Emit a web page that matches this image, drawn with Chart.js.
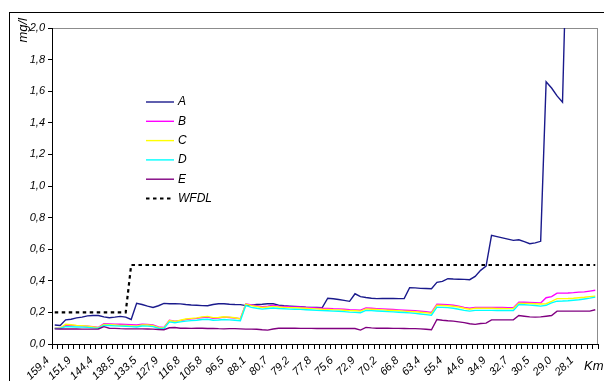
<!DOCTYPE html>
<html lang="de">
<head>
  <meta charset="UTF-8">
  <title>mg/l entlang Km</title>
  <script src="https://cdn.jsdelivr.net/npm/chart.js"></script>
  <style>
    html, body { margin: 0; padding: 0; background: #fff; overflow: hidden; }
    .frame { position: absolute; left: 9px; top: 12px; width: 700px; height: 500px; border: 1px solid #000; }
    .wrap { position: absolute; left: 0; top: 0; width: 604px; height: 381px; }
  </style>
</head>
<body>
  <div class="frame"></div>
  <div class="wrap"><canvas id="chart" width="604" height="381"></canvas></div>

  <script>
    // Km-Beschriftung (jede 4. Kategorie), 100 Messpunkte
    const tickLabels = ['159,4', '151,9', '144,4', '138,5', '133,5', '127,9', '116,8', '105,8', '96,5', '88,1',
      '80,7', '79,2', '77,8', '75,6', '72,9', '70,2', '66,8', '63,4', '55,4', '44,6',
      '34,9', '32,7', '30,5', '29,0', '28,1'];

    const seriesA = [
      0.12, 0.117, 0.153, 0.157, 0.165, 0.17, 0.178, 0.18, 0.18, 0.172,
      0.166, 0.17, 0.175, 0.17, 0.155, 0.257, 0.25, 0.24, 0.231, 0.242,
      0.257, 0.255, 0.255, 0.254, 0.25, 0.247, 0.245, 0.243, 0.242, 0.25,
      0.255, 0.255, 0.252, 0.25, 0.249, 0.243, 0.246, 0.25, 0.252, 0.255,
      0.255, 0.246, 0.242, 0.24, 0.238, 0.236, 0.233, 0.232, 0.231, 0.23,
      0.29, 0.286, 0.282, 0.276, 0.27, 0.318, 0.3, 0.294, 0.29, 0.287,
      0.288, 0.288, 0.288, 0.287, 0.287, 0.356, 0.355, 0.352, 0.351, 0.35,
      0.39, 0.396, 0.413, 0.411, 0.41, 0.409, 0.407, 0.428, 0.466, 0.493,
      0.688, 0.68, 0.672, 0.664, 0.656, 0.66, 0.648, 0.635, 0.64, 0.65,
      1.66, 1.62, 1.57, 1.53, 2.84, 2.9, 2.95, 3.0, 3.05, 3.1
    ];
    const seriesB = [
      0.1, 0.1, 0.118, 0.117, 0.116, 0.115, 0.113, 0.11, 0.105, 0.128,
      0.127, 0.126, 0.125, 0.124, 0.122, 0.12, 0.126, 0.124, 0.12, 0.108,
      0.105, 0.15, 0.145, 0.148, 0.155, 0.16, 0.162, 0.168, 0.17, 0.162,
      0.165, 0.17, 0.168, 0.165, 0.16, 0.255, 0.248, 0.242, 0.236, 0.24,
      0.245, 0.24, 0.238, 0.236, 0.235, 0.234, 0.232, 0.23, 0.228, 0.226,
      0.225, 0.223, 0.222, 0.22, 0.217, 0.216, 0.214, 0.228, 0.226, 0.224,
      0.222, 0.22, 0.218, 0.216, 0.214, 0.212, 0.21, 0.207, 0.204, 0.2,
      0.252, 0.25, 0.248, 0.245, 0.24, 0.232, 0.226, 0.232, 0.232, 0.232,
      0.232, 0.231, 0.231, 0.23, 0.23, 0.265, 0.264, 0.263, 0.262, 0.26,
      0.293, 0.3, 0.322, 0.322, 0.323, 0.325, 0.328, 0.33, 0.335, 0.34
    ];
    const seriesC = [
      0.1, 0.1, 0.125, 0.122, 0.118, 0.116, 0.113, 0.108, 0.103, 0.123,
      0.122, 0.12, 0.118, 0.117, 0.115, 0.113, 0.12, 0.12, 0.116, 0.105,
      0.102, 0.148, 0.142, 0.15, 0.158, 0.162, 0.165, 0.172, 0.175, 0.167,
      0.168, 0.172, 0.17, 0.166, 0.158, 0.252, 0.243, 0.237, 0.231, 0.234,
      0.238, 0.234, 0.232, 0.23, 0.229, 0.228, 0.226, 0.224, 0.222, 0.22,
      0.219, 0.217, 0.216, 0.214, 0.211, 0.21, 0.208, 0.222, 0.22, 0.218,
      0.216, 0.214, 0.212, 0.21, 0.208, 0.206, 0.204, 0.201, 0.198, 0.194,
      0.246, 0.244, 0.242, 0.239, 0.234, 0.226, 0.22, 0.226, 0.226, 0.226,
      0.226, 0.225, 0.225, 0.224, 0.224, 0.258, 0.257, 0.256, 0.255, 0.253,
      0.255, 0.27, 0.287, 0.287, 0.288, 0.29, 0.293, 0.296, 0.3, 0.303
    ];
    const seriesD = [
      0.098, 0.098, 0.11, 0.109, 0.108, 0.107, 0.105, 0.102, 0.1, 0.118,
      0.117, 0.115, 0.113, 0.112, 0.11, 0.108, 0.114, 0.113, 0.11, 0.1,
      0.098, 0.14, 0.135, 0.14, 0.145, 0.148, 0.15, 0.155, 0.157, 0.15,
      0.152, 0.155, 0.153, 0.15, 0.147, 0.245, 0.232, 0.226, 0.221, 0.225,
      0.228, 0.225, 0.223, 0.221, 0.22, 0.219, 0.217, 0.215, 0.213, 0.211,
      0.21, 0.208, 0.207, 0.205, 0.202, 0.2, 0.198, 0.213, 0.211, 0.209,
      0.207, 0.205, 0.203, 0.201, 0.199, 0.197, 0.194, 0.19, 0.186, 0.182,
      0.233, 0.232, 0.23, 0.226, 0.22, 0.213, 0.208, 0.213, 0.213, 0.213,
      0.213, 0.212, 0.212, 0.212, 0.212, 0.25, 0.248, 0.246, 0.244, 0.24,
      0.245, 0.26, 0.271, 0.272, 0.274, 0.277, 0.28, 0.285, 0.29, 0.297
    ];
    const seriesE = [
      0.096, 0.095, 0.095, 0.096, 0.095, 0.094, 0.094, 0.094, 0.095, 0.11,
      0.1, 0.099, 0.097, 0.096, 0.096, 0.096, 0.096, 0.095, 0.094, 0.092,
      0.09, 0.103, 0.104, 0.1, 0.1, 0.099, 0.1, 0.1, 0.098, 0.099,
      0.097, 0.096, 0.097, 0.097, 0.096, 0.094, 0.094, 0.093, 0.09, 0.088,
      0.095, 0.1, 0.1, 0.1, 0.1, 0.099, 0.099, 0.099, 0.098, 0.098,
      0.098, 0.098, 0.098, 0.098, 0.098, 0.098, 0.088, 0.105, 0.102, 0.1,
      0.1, 0.1, 0.099, 0.099, 0.098, 0.097, 0.097, 0.096, 0.093, 0.09,
      0.155, 0.15, 0.147, 0.145, 0.14, 0.135, 0.128, 0.124, 0.13, 0.132,
      0.153, 0.153, 0.153, 0.153, 0.153, 0.18, 0.176, 0.172, 0.17, 0.172,
      0.176, 0.18, 0.208, 0.208, 0.208, 0.208, 0.208, 0.208, 0.208, 0.217
    ];
    const seriesWFDL = [
      0.2, 0.2, 0.2, 0.2, 0.2, 0.2, 0.2, 0.2, 0.2, 0.2,
      0.2, 0.2, 0.2, 0.2, 0.5, 0.5, 0.5, 0.5, 0.5, 0.5,
      0.5, 0.5, 0.5, 0.5, 0.5, 0.5, 0.5, 0.5, 0.5, 0.5,
      0.5, 0.5, 0.5, 0.5, 0.5, 0.5, 0.5, 0.5, 0.5, 0.5,
      0.5, 0.5, 0.5, 0.5, 0.5, 0.5, 0.5, 0.5, 0.5, 0.5,
      0.5, 0.5, 0.5, 0.5, 0.5, 0.5, 0.5, 0.5, 0.5, 0.5,
      0.5, 0.5, 0.5, 0.5, 0.5, 0.5, 0.5, 0.5, 0.5, 0.5,
      0.5, 0.5, 0.5, 0.5, 0.5, 0.5, 0.5, 0.5, 0.5, 0.5,
      0.5, 0.5, 0.5, 0.5, 0.5, 0.5, 0.5, 0.5, 0.5, 0.5,
      0.5, 0.5, 0.5, 0.5, 0.5, 0.5, 0.5, 0.5, 0.5, 0.5
    ];

    // nur jede 4. Kategorie bekommt eine Beschriftung
    const categories = seriesA.map((_, i) => (i % 4 === 0 && tickLabels[i / 4]) ? tickLabels[i / 4] : '');

    const FONT = 'Liberation Sans, Arial, sans-serif';

    function line(label, data, color, order, extra) {
      return Object.assign({
        label, data, order,
        borderColor: color,
        backgroundColor: color,
        borderWidth: 1.4,
        pointRadius: 0,
        tension: 0,
        fill: false
      }, extra || {});
    }

    // Zeichenfläche: grauer Rahmen, Legende im Diagramm, Achsentitel
    const extras = {
      id: 'extras',
      beforeDraw(chart) {
        const { ctx, chartArea: a } = chart;
        ctx.save();
        ctx.strokeStyle = '#8c8c8c';
        ctx.lineWidth = 1;
        ctx.strokeRect(Math.round(a.left) + 0.5, Math.round(a.top) + 0.5,
          Math.round(a.right - a.left) - 1, Math.round(a.bottom - a.top));
        ctx.restore();
      },
      afterDraw(chart) {
        const ctx = chart.ctx;
        ctx.save();
        // Legende
        ctx.font = 'italic 12px ' + FONT;
        ctx.textBaseline = 'middle';
        ctx.fillStyle = '#000';
        chart.data.datasets.forEach((ds, i) => {
          const y = 102 + i * 19.3;
          ctx.strokeStyle = ds.borderColor;
          ctx.lineWidth = ds.borderWidth;
          ctx.setLineDash(ds.borderDash || []);
          ctx.beginPath();
          ctx.moveTo(146, y);
          ctx.lineTo(174, y);
          ctx.stroke();
          ctx.fillText(ds.label, 178, y);
        });
        ctx.setLineDash([]);
        // Km
        ctx.font = 'italic 13px ' + FONT;
        ctx.textBaseline = 'alphabetic';
        ctx.textAlign = 'left';
        ctx.fillText('Km', 584, 370);
        // mg/l
        ctx.font = 'italic 13px ' + FONT;
        ctx.translate(27, 18);
        ctx.rotate(-Math.PI / 2);
        ctx.textAlign = 'right';
        ctx.fillText('mg/l', 0, 0);
        ctx.restore();
      }
    };

    new Chart(document.getElementById('chart').getContext('2d'), {
      type: 'line',
      data: {
        labels: categories,
        datasets: [
          line('A', seriesA, '#1a1a8c', 5),
          line('B', seriesB, '#ff00ff', 4),
          line('C', seriesC, '#ffff00', 3),
          line('D', seriesD, '#00ffff', 2),
          line('E', seriesE, '#800080', 1),
          line('WFDL', seriesWFDL, '#000000', 0, { borderWidth: 2.2, borderDash: [3.5, 3.5] })
        ]
      },
      options: {
        responsive: false,
        animation: false,
        layout: { padding: { top: 28, right: 6, left: 0, bottom: 0 } },
        scales: {
          x: {
            offset: true,
            grid: { display: true, offset: true, drawOnChartArea: false, drawTicks: true, tickLength: 5, color: '#000', lineWidth: 1 },
            border: { display: true, color: '#000', width: 1 },
            ticks: {
              autoSkip: false, minRotation: 45, maxRotation: 45,
              padding: 5, labelOffset: -7, color: '#000',
              font: { family: FONT, size: 11, style: 'italic' }
            },
            afterFit: s => { s.height = 37; s.paddingLeft = 0; s.paddingRight = 0; }
          },
          y: {
            min: 0, max: 2,
            grid: { display: true, drawOnChartArea: false, drawTicks: true, tickLength: 4, color: '#000' },
            border: { display: true, color: '#000', width: 1 },
            ticks: {
              stepSize: 0.2, padding: 3, color: '#000',
              font: { family: FONT, size: 11, style: 'italic' },
              callback: v => Number(v).toFixed(1).replace('.', ',')
            },
            afterFit: s => { s.width = 52; }
          }
        },
        plugins: { legend: { display: false }, tooltip: { enabled: false } }
      },
      plugins: [extras]
    });
  </script>
</body>
</html>
